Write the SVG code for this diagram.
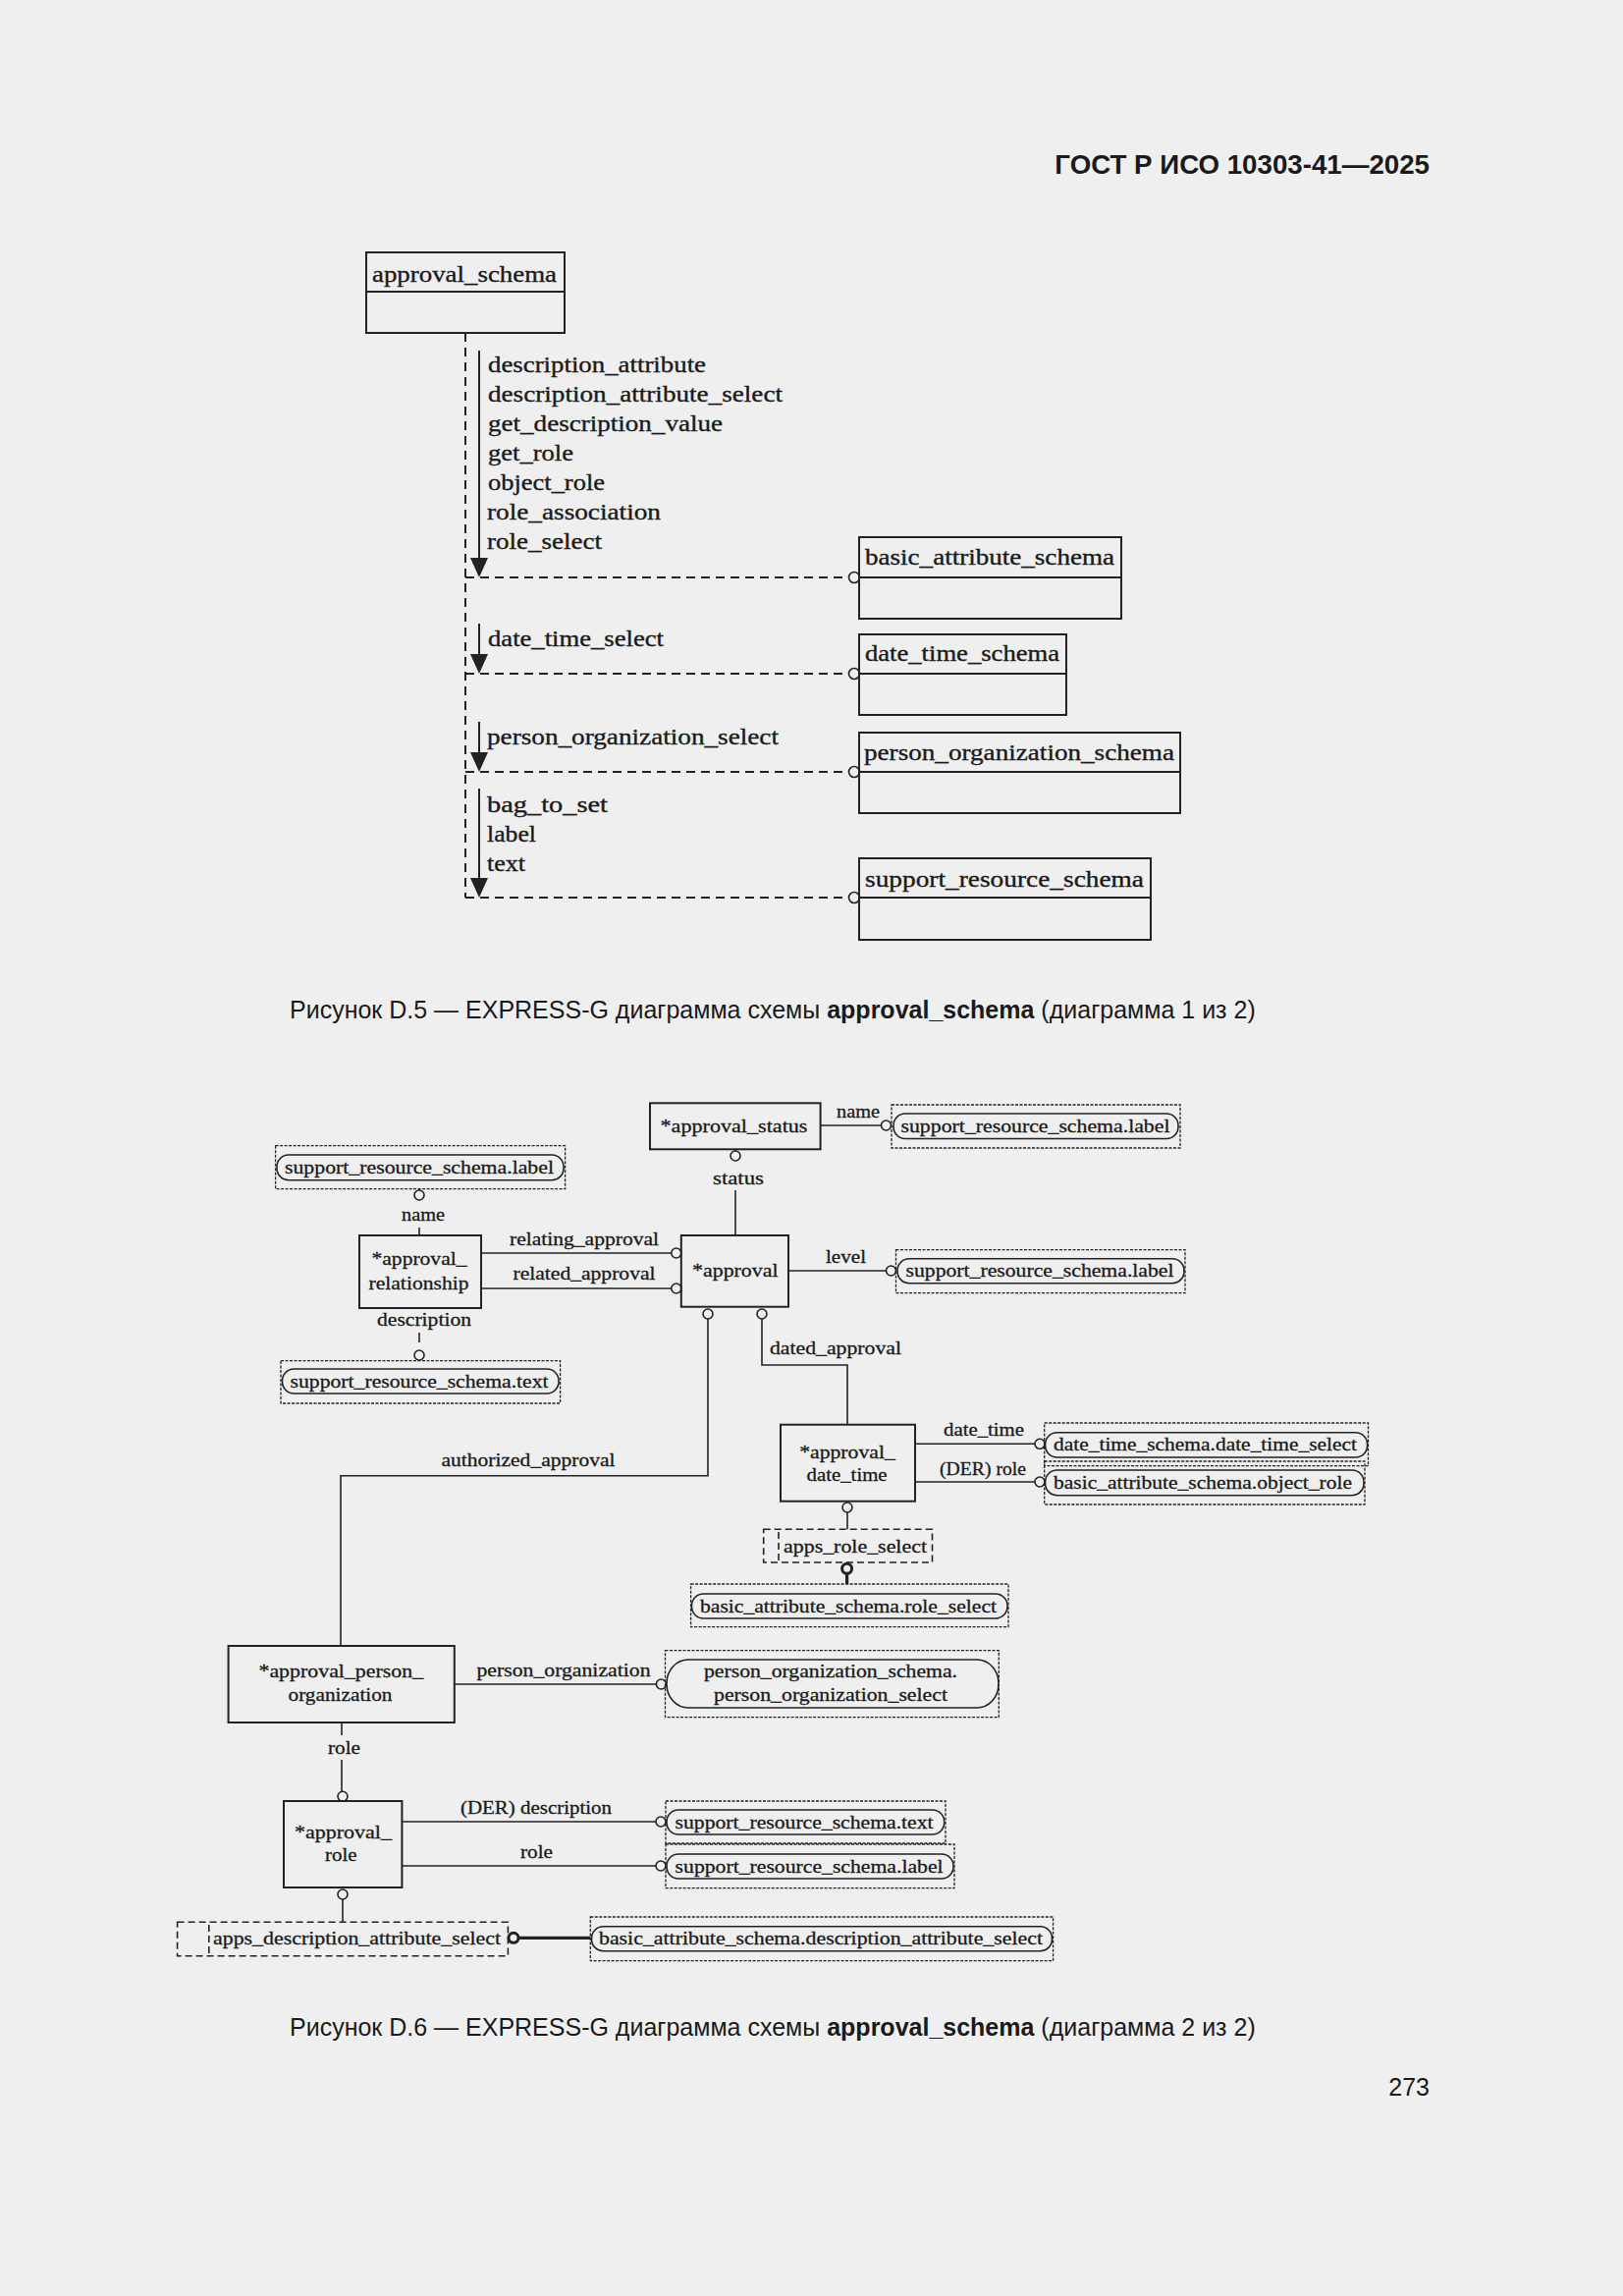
<svg xmlns="http://www.w3.org/2000/svg" width="1653" height="2338" viewBox="0 0 1653 2338">
<defs>
<style>
.bg{fill:#efefef}
.ent{fill:none;stroke:#222;stroke-width:2}
.sl{fill:none;stroke:#222;stroke-width:1.6}
.dl{fill:none;stroke:#222;stroke-width:2;stroke-dasharray:9,6}
.ref{fill:none;stroke:#222;stroke-width:1.3;stroke-dasharray:3,1.5}
.pill{fill:none;stroke:#222;stroke-width:1.6}
.sel{fill:none;stroke:#222;stroke-width:1.6;stroke-dasharray:7,4}
.thk{fill:none;stroke:#222;stroke-width:3.2}
.cir{fill:#efefef;stroke:#222;stroke-width:1.6}
.cirb{fill:#efefef;stroke:#222;stroke-width:3}
.arr{fill:#222;stroke:none}
.t1{font-family:"Liberation Serif","Times New Roman",serif;font-size:23px;fill:#1a1a1a;stroke:#1a1a1a;stroke-width:0.35}
.t2{font-family:"Liberation Serif","Times New Roman",serif;font-size:18.5px;fill:#1a1a1a;stroke:#1a1a1a;stroke-width:0.3}
.c{text-anchor:middle}
.hd{font-family:"Liberation Sans",Arial,sans-serif;font-size:27.7px;font-weight:bold;fill:#1a1a1a;text-anchor:end}
.cap{font-family:"Liberation Sans",Arial,sans-serif;font-size:25px;fill:#1a1a1a}
.pg{font-family:"Liberation Sans",Arial,sans-serif;font-size:25px;fill:#1a1a1a;text-anchor:end}
</style>
</defs>
<rect class="bg" x="0" y="0" width="1653" height="2338"/>
<text class="hd" x="1456" y="177">ГОСТ Р ИСО 10303-41—2025</text>

<!-- Diagram D.5 -->
<g id="d5_connectors">
<line class="dl" x1="474" y1="339" x2="474" y2="914"/>
<line class="dl" x1="474" y1="588" x2="864.5" y2="588"/>
<line class="dl" x1="474" y1="686" x2="864.5" y2="686"/>
<line class="dl" x1="474" y1="786" x2="864.5" y2="786"/>
<line class="dl" x1="474" y1="914" x2="864.5" y2="914"/>
<circle class="cir" cx="870" cy="588" r="5.5"/>
<circle class="cir" cx="870" cy="686" r="5.5"/>
<circle class="cir" cx="870" cy="786" r="5.5"/>
<circle class="cir" cx="870" cy="914" r="5.5"/>
<line class="sl" x1="488" y1="357" x2="488" y2="572" style="stroke-width:2"/>
<polygon class="arr" points="479,568 497,568 488,588"/>
<line class="sl" x1="488" y1="635" x2="488" y2="670" style="stroke-width:2"/>
<polygon class="arr" points="479,666 497,666 488,686"/>
<line class="sl" x1="488" y1="735" x2="488" y2="770" style="stroke-width:2"/>
<polygon class="arr" points="479,766 497,766 488,786"/>
<line class="sl" x1="488" y1="803" x2="488" y2="898" style="stroke-width:2"/>
<polygon class="arr" points="479,894 497,894 488,914"/>
<text class="t1" x="497" y="379" textLength="222" lengthAdjust="spacingAndGlyphs">description_attribute</text>
<text class="t1" x="497" y="409" textLength="300" lengthAdjust="spacingAndGlyphs">description_attribute_select</text>
<text class="t1" x="497" y="439" textLength="239" lengthAdjust="spacingAndGlyphs">get_description_value</text>
<text class="t1" x="497" y="469" textLength="87" lengthAdjust="spacingAndGlyphs">get_role</text>
<text class="t1" x="497" y="499" textLength="119" lengthAdjust="spacingAndGlyphs">object_role</text>
<text class="t1" x="496" y="529" textLength="177" lengthAdjust="spacingAndGlyphs">role_association</text>
<text class="t1" x="496" y="559" textLength="117" lengthAdjust="spacingAndGlyphs">role_select</text>
<text class="t1" x="497" y="658" textLength="179" lengthAdjust="spacingAndGlyphs">date_time_select</text>
<text class="t1" x="496" y="758" textLength="297" lengthAdjust="spacingAndGlyphs">person_organization_select</text>
<text class="t1" x="496" y="827" textLength="123" lengthAdjust="spacingAndGlyphs">bag_to_set</text>
<text class="t1" x="496" y="857" textLength="50" lengthAdjust="spacingAndGlyphs">label</text>
<text class="t1" x="496" y="887" textLength="39" lengthAdjust="spacingAndGlyphs">text</text>
</g>
<g id="approval_schema">
<rect class="ent" x="373" y="257" width="202" height="82"/>
<line class="ent" x1="373" y1="297" x2="575" y2="297"/>
<text class="t1" x="379" y="287" textLength="188" lengthAdjust="spacingAndGlyphs">approval_schema</text>
</g>
<g id="basic_attribute_schema">
<rect class="ent" x="875" y="547" width="267" height="83"/>
<line class="ent" x1="875" y1="588" x2="1142" y2="588"/>
<text class="t1" x="881" y="575" textLength="254" lengthAdjust="spacingAndGlyphs">basic_attribute_schema</text>
</g>
<g id="date_time_schema">
<rect class="ent" x="875" y="646" width="211" height="82"/>
<line class="ent" x1="875" y1="686" x2="1086" y2="686"/>
<text class="t1" x="881" y="673" textLength="198" lengthAdjust="spacingAndGlyphs">date_time_schema</text>
</g>
<g id="person_organization_schema">
<rect class="ent" x="875" y="746" width="327" height="82"/>
<line class="ent" x1="875" y1="786" x2="1202" y2="786"/>
<text class="t1" x="880" y="774" textLength="316" lengthAdjust="spacingAndGlyphs">person_organization_schema</text>
</g>
<g id="support_resource_schema">
<rect class="ent" x="875" y="874" width="297" height="83"/>
<line class="ent" x1="875" y1="914" x2="1172" y2="914"/>
<text class="t1" x="881" y="903" textLength="284" lengthAdjust="spacingAndGlyphs">support_resource_schema</text>
</g>

<text class="cap" x="295" y="1037">Рисунок D.5 — EXPRESS-G диаграмма схемы <tspan font-weight="bold">approval_schema</tspan> (диаграмма 1 из 2)</text>

<!-- Diagram D.6 -->
<g id="d6_connectors">
<line class="sl" x1="836" y1="1146" x2="897.5" y2="1146"/>
<circle class="cir" cx="902.5" cy="1146" r="5"/>
<text class="t2 c" x="874" y="1138" textLength="44" lengthAdjust="spacingAndGlyphs">name</text>
<line class="sl" x1="749" y1="1170" x2="749" y2="1172"/>
<circle class="cir" cx="749" cy="1177" r="5"/>
<text class="t2 c" x="752" y="1206" textLength="52" lengthAdjust="spacingAndGlyphs">status</text>
<line class="sl" x1="749" y1="1212" x2="749" y2="1258"/>
<line class="sl" x1="427" y1="1211" x2="427" y2="1212"/>
<circle class="cir" cx="427" cy="1217" r="5"/>
<text class="t2 c" x="431" y="1243" textLength="44" lengthAdjust="spacingAndGlyphs">name</text>
<line class="sl" x1="427" y1="1250" x2="427" y2="1258"/>
<line class="sl" x1="490" y1="1276" x2="683.8" y2="1276"/>
<circle class="cir" cx="688.8" cy="1276" r="5"/>
<text class="t2 c" x="595" y="1268" textLength="152" lengthAdjust="spacingAndGlyphs">relating_approval</text>
<line class="sl" x1="490" y1="1312" x2="683.8" y2="1312"/>
<circle class="cir" cx="688.8" cy="1312" r="5"/>
<text class="t2 c" x="595" y="1303" textLength="145" lengthAdjust="spacingAndGlyphs">related_approval</text>
<line class="sl" x1="803" y1="1294" x2="902.5" y2="1294"/>
<circle class="cir" cx="907.5" cy="1294" r="5"/>
<text class="t2 c" x="861.5" y="1286" textLength="41" lengthAdjust="spacingAndGlyphs">level</text>
<text class="t2 c" x="432" y="1350" textLength="96" lengthAdjust="spacingAndGlyphs">description</text>
<line class="sl" x1="427" y1="1357" x2="427" y2="1367"/>
<circle class="cir" cx="427" cy="1380" r="5"/>
<circle class="cir" cx="721" cy="1338" r="5"/>
<polyline class="sl" points="721,1343 721,1502.7 347,1502.7 347,1676"/>
<text class="t2 c" x="538" y="1493" textLength="177" lengthAdjust="spacingAndGlyphs">authorized_approval</text>
<circle class="cir" cx="776" cy="1338" r="5"/>
<polyline class="sl" points="776,1343 776,1390 863,1390 863,1450.7"/>
<text class="t2 c" x="851" y="1379" textLength="134" lengthAdjust="spacingAndGlyphs">dated_approval</text>
<line class="sl" x1="932" y1="1470.3" x2="1054" y2="1470.3"/>
<circle class="cir" cx="1059" cy="1470.3" r="5"/>
<text class="t2 c" x="1002" y="1462" textLength="82" lengthAdjust="spacingAndGlyphs">date_time</text>
<line class="sl" x1="932" y1="1509" x2="1054" y2="1509"/>
<circle class="cir" cx="1059" cy="1509" r="5"/>
<text class="t2 c" x="1001" y="1501.7" textLength="88" lengthAdjust="spacingAndGlyphs">(DER) role</text>
<circle class="cir" cx="863" cy="1535" r="5"/>
<line class="sl" x1="863" y1="1540" x2="863" y2="1557.3"/>
<circle class="cirb" cx="862.6" cy="1597.3" r="5"/>
<line class="thk" x1="862.6" y1="1602.5" x2="862.6" y2="1613"/>
<line class="sl" x1="462.8" y1="1715" x2="668.4" y2="1715"/>
<circle class="cir" cx="673.4" cy="1715" r="5"/>
<text class="t2 c" x="574" y="1706.7" textLength="177" lengthAdjust="spacingAndGlyphs">person_organization</text>
<line class="sl" x1="348" y1="1754" x2="348" y2="1767"/>
<text class="t2 c" x="350.5" y="1786" textLength="33" lengthAdjust="spacingAndGlyphs">role</text>
<line class="sl" x1="348" y1="1792" x2="348" y2="1824.3"/>
<circle class="cir" cx="349" cy="1829.3" r="5"/>
<line class="sl" x1="409.4" y1="1855" x2="668" y2="1855"/>
<circle class="cir" cx="673" cy="1855" r="5"/>
<text class="t2 c" x="546" y="1847" textLength="154" lengthAdjust="spacingAndGlyphs">(DER) description</text>
<line class="sl" x1="409.4" y1="1900" x2="668" y2="1900"/>
<circle class="cir" cx="673" cy="1900" r="5"/>
<text class="t2 c" x="546.5" y="1891.7" textLength="33" lengthAdjust="spacingAndGlyphs">role</text>
<circle class="cir" cx="349" cy="1929" r="5"/>
<line class="sl" x1="349" y1="1934" x2="349" y2="1957.3"/>
<circle class="cirb" cx="523" cy="1973.3" r="5"/>
<line class="thk" x1="528" y1="1973.3" x2="601.3" y2="1973.3"/>
</g>

<g id="approval_status">
<rect class="ent" x="662" y="1123.3" width="173.6" height="47"/>
<text class="t2 c" x="747.5" y="1153" textLength="150" lengthAdjust="spacingAndGlyphs">*approval_status</text>
</g>
<g id="approval">
<rect class="ent" x="693.8" y="1258" width="109.2" height="72.7"/>
<text class="t2 c" x="748.8" y="1300" textLength="87.5" lengthAdjust="spacingAndGlyphs">*approval</text>
</g>
<g id="approval_relationship">
<rect class="ent" x="366" y="1258" width="124" height="74"/>
<text class="t2 c" x="427" y="1288" textLength="97" lengthAdjust="spacingAndGlyphs">*approval_</text>
<text class="t2 c" x="426.5" y="1313" textLength="102" lengthAdjust="spacingAndGlyphs">relationship</text>
</g>
<g id="approval_date_time">
<rect class="ent" x="795" y="1450.7" width="137" height="78"/>
<text class="t2 c" x="863" y="1485" textLength="97.7" lengthAdjust="spacingAndGlyphs">*approval_</text>
<text class="t2 c" x="862.6" y="1508" textLength="82" lengthAdjust="spacingAndGlyphs">date_time</text>
</g>
<g id="approval_person_organization">
<rect class="ent" x="232.6" y="1676" width="230.2" height="78"/>
<text class="t2 c" x="347.3" y="1708.3" textLength="167.6" lengthAdjust="spacingAndGlyphs">*approval_person_</text>
<text class="t2 c" x="346.5" y="1731.7" textLength="106" lengthAdjust="spacingAndGlyphs">organization</text>
</g>
<g id="approval_role">
<rect class="ent" x="289" y="1834" width="120.4" height="88"/>
<text class="t2 c" x="349.5" y="1871.7" textLength="99" lengthAdjust="spacingAndGlyphs">*approval_</text>
<text class="t2 c" x="347.3" y="1895" textLength="32.6" lengthAdjust="spacingAndGlyphs">role</text>
</g>

<g id="ref_status_name">
<rect class="ref" x="908" y="1125" width="294" height="44"/>
<rect class="pill" x="910" y="1134" width="290" height="25.5" rx="12" ry="12"/>
<text class="t2" x="917.5" y="1153" textLength="274" lengthAdjust="spacingAndGlyphs">support_resource_schema.label</text>
</g>
<g id="ref_relationship_name">
<rect class="ref" x="280.6" y="1166.7" width="295" height="44"/>
<rect class="pill" x="282" y="1176" width="292" height="25.7" rx="12" ry="12"/>
<text class="t2" x="290" y="1195" textLength="274" lengthAdjust="spacingAndGlyphs">support_resource_schema.label</text>
</g>
<g id="ref_level">
<rect class="ref" x="912.5" y="1272.7" width="294.5" height="44"/>
<rect class="pill" x="914" y="1281.7" width="292" height="25" rx="12" ry="12"/>
<text class="t2" x="922.5" y="1300" textLength="273" lengthAdjust="spacingAndGlyphs">support_resource_schema.label</text>
</g>
<g id="ref_relationship_description">
<rect class="ref" x="286" y="1385.7" width="284.6" height="43.3"/>
<rect class="pill" x="287.5" y="1394" width="281.5" height="25" rx="12" ry="12"/>
<text class="t2" x="295.6" y="1413" textLength="263" lengthAdjust="spacingAndGlyphs">support_resource_schema.text</text>
</g>
<g id="ref_date_time_select">
<rect class="ref" x="1063.7" y="1449" width="329.8" height="43.7"/>
<rect class="pill" x="1064.6" y="1458.7" width="328" height="25.3" rx="12" ry="12"/>
<text class="t2" x="1073" y="1477.3" textLength="309" lengthAdjust="spacingAndGlyphs">date_time_schema.date_time_select</text>
</g>
<g id="ref_object_role">
<rect class="ref" x="1063.7" y="1488" width="326.3" height="44"/>
<rect class="pill" x="1064.6" y="1497" width="324.4" height="25.7" rx="12" ry="12"/>
<text class="t2" x="1073" y="1516" textLength="304" lengthAdjust="spacingAndGlyphs">basic_attribute_schema.object_role</text>
</g>
<g id="apps_role_select">
<rect class="sel" x="777.7" y="1557.3" width="171.8" height="33.7"/>
<line class="sel" x1="793" y1="1560" x2="793" y2="1591"/>
<text class="t2" x="798" y="1580.7" textLength="146" lengthAdjust="spacingAndGlyphs">apps_role_select</text>
</g>
<g id="ref_role_select">
<rect class="ref" x="703.6" y="1613" width="323.4" height="43.7"/>
<rect class="pill" x="704.5" y="1623" width="321.5" height="25" rx="12" ry="12"/>
<text class="t2" x="713" y="1641.7" textLength="302" lengthAdjust="spacingAndGlyphs">basic_attribute_schema.role_select</text>
</g>
<g id="ref_person_organization_select">
<rect class="ref" x="677.5" y="1680.7" width="339.8" height="68"/>
<rect class="pill" x="679" y="1690" width="338" height="49" rx="22" ry="24"/>
<text class="t2 c" x="846" y="1708.3" textLength="258" lengthAdjust="spacingAndGlyphs">person_organization_schema.</text>
<text class="t2 c" x="846" y="1731.7" textLength="238" lengthAdjust="spacingAndGlyphs">person_organization_select</text>
</g>
<g id="ref_role_text">
<rect class="ref" x="678" y="1834" width="285" height="43"/>
<rect class="pill" x="679" y="1843" width="282.7" height="25" rx="12" ry="12"/>
<text class="t2" x="687.6" y="1861.7" textLength="263" lengthAdjust="spacingAndGlyphs">support_resource_schema.text</text>
</g>
<g id="ref_role_label">
<rect class="ref" x="678" y="1878" width="294" height="44.7"/>
<rect class="pill" x="679" y="1888" width="292" height="25" rx="12" ry="12"/>
<text class="t2" x="687.6" y="1906.7" textLength="273" lengthAdjust="spacingAndGlyphs">support_resource_schema.label</text>
</g>
<g id="apps_description_attribute_select">
<rect class="sel" x="180.6" y="1957.3" width="336.8" height="34.4"/>
<line class="sel" x1="212.8" y1="1960" x2="212.8" y2="1991.7"/>
<text class="t2" x="217" y="1980" textLength="293" lengthAdjust="spacingAndGlyphs">apps_description_attribute_select</text>
</g>
<g id="ref_description_attribute_select">
<rect class="ref" x="601.3" y="1952" width="471.3" height="44.7"/>
<rect class="pill" x="602.5" y="1961.7" width="469" height="25" rx="12" ry="12"/>
<text class="t2" x="610" y="1980" textLength="452" lengthAdjust="spacingAndGlyphs">basic_attribute_schema.description_attribute_select</text>
</g>

<text class="cap" x="295" y="2073">Рисунок D.6 — EXPRESS-G диаграмма схемы <tspan font-weight="bold">approval_schema</tspan> (диаграмма 2 из 2)</text>
<text class="pg" x="1456" y="2134">273</text>
</svg>
